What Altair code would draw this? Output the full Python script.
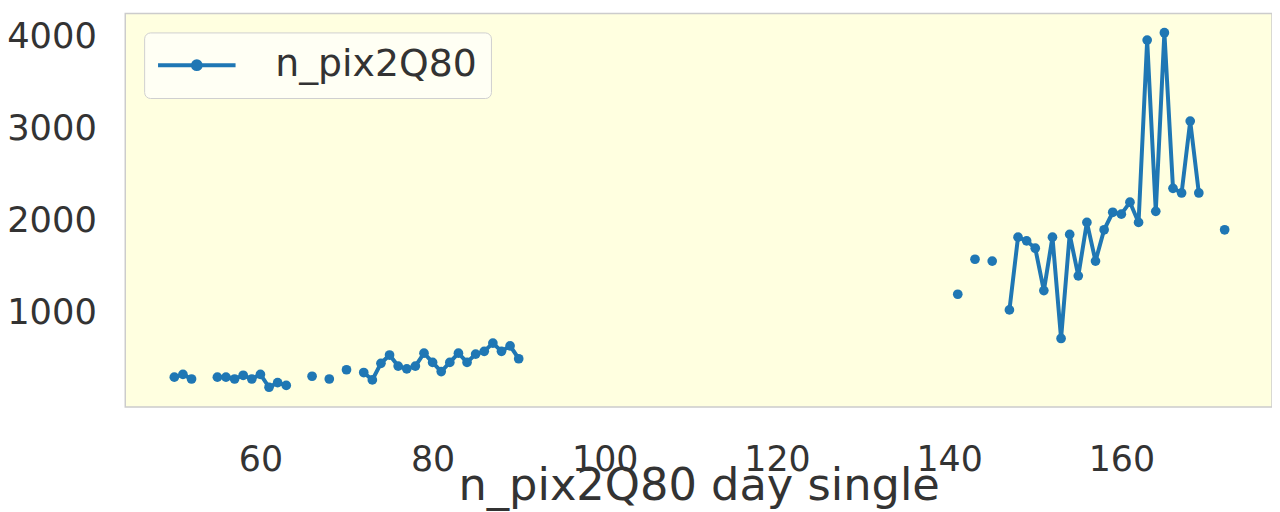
import altair as alt
import pandas as pd

series_name = "n_pix2Q80"
x_title = "n_pix2Q80 day single"

days = [50, 51, 52,
        55, 56, 57, 58, 59, 60, 61, 62, 63,
        66, 68, 70,
        72, 73, 74, 75, 76, 77, 78, 79, 80, 81, 82, 83, 84, 85, 86, 87, 88, 89, 90,
        141, 143, 145,
        147, 148, 149, 150, 151, 152, 153, 154, 155, 156, 157, 158, 159, 160,
        161, 162, 163, 164, 165, 166, 167, 168, 169,
        172]
values = [300, 330, 280,
          300, 300, 280, 320, 280, 330, 190, 240, 210,
          310, 280, 380,
          350, 270, 450, 540, 420, 390, 420, 560, 460, 360, 460, 560, 460, 550, 580, 670, 580, 640, 500,
          1200, 1580, 1560,
          1030, 1820, 1780, 1700, 1240, 1820, 720, 1850, 1400, 1980, 1560, 1900, 2090, 2070,
          2200, 1980, 3960, 2100, 4040, 2350, 2300, 3080, 2300,
          1900]

x_ticks = [60, 80, 100, 120, 140, 160]
y_ticks = [1000, 2000, 3000, 4000]

# contiguous runs of days form separate line segments (gaps break the line)
seg = []
s = 0
for i, d in enumerate(days):
    if i > 0 and d - days[i - 1] > 1:
        s += 1
    seg.append(s)

df = pd.DataFrame({"day": days, "value": values, "seg": seg,
                   "series": [series_name] * len(days)})

FONT = "DejaVu Sans"
TXT = "#333333"
BLUE = "#1f77b4"

x = alt.X("day:Q",
          scale=alt.Scale(domain=[44.3, 177.5], nice=False, zero=False),
          axis=alt.Axis(values=x_ticks, title=x_title, grid=False, ticks=False, domain=False,
                        labelFontSize=35, labelPadding=36, labelFont=FONT, labelColor=TXT,
                        titleFontSize=45, titleFont=FONT, titleColor=TXT, titleFontWeight="normal",
                        titleBaseline="alphabetic", titleY=93))
y = alt.Y("value:Q",
          scale=alt.Scale(domain=[-25, 4248], nice=False, zero=False),
          axis=alt.Axis(values=y_ticks, format="d", title=None, grid=False, ticks=False, domain=False,
                        labelFontSize=35.5, labelPadding=29, labelFont=FONT, labelColor=TXT))

legend = alt.Legend(title=None, orient="top-left", offset=19,
                    symbolType="M-3,0H3M0.3,0A0.3,0.3,0,1,1,-0.3,0A0.3,0.3,0,1,1,0.3,0Z",
                    symbolSize=676, symbolStrokeWidth=4,
                    symbolFillColor=BLUE, symbolStrokeColor=BLUE, symbolOffset=20,
                    labelOffset=60, labelFontSize=38, labelFont=FONT, labelColor=TXT,
                    labelLimit=0, padding=14, fillColor="#fffff4", strokeColor="#d0d0d0",
                    cornerRadius=6)

base = alt.Chart(df)
line = base.mark_line(strokeWidth=4).encode(
    x=x, y=y,
    color=alt.Color("series:N", scale=alt.Scale(range=[BLUE]), legend=legend),
    detail="seg:N")
points = base.mark_circle(size=95, opacity=1, color=BLUE).encode(x=x, y=y)

chart = alt.layer(line, points).properties(
    width=1154, height=396,
    padding={"left": 118, "top": 4, "right": 0, "bottom": 104},
    autosize="none",
).configure_view(fill="#FFFFE0", stroke="#cccccc", strokeWidth=1.5)

chart.save("out.html", embed_options={"renderer": "svg", "actions": False})
